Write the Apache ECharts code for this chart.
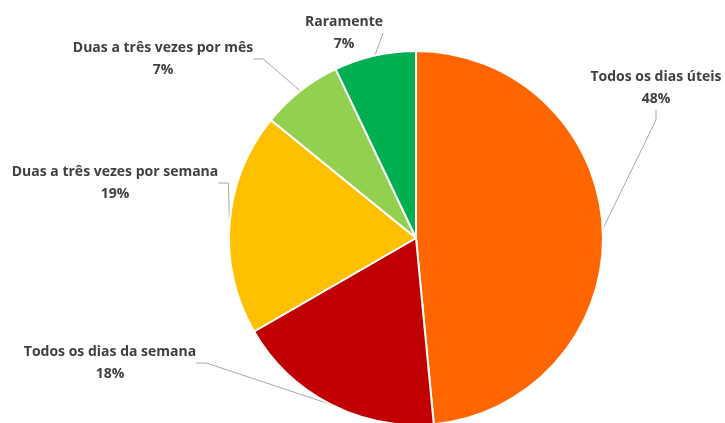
<!DOCTYPE html>
<html>
<head>
<meta charset="utf-8">
<script src="https://cdn.jsdelivr.net/npm/echarts@6/dist/echarts.min.js"></script>
<style>
  html, body { margin: 0; padding: 0; background: #fff; }
  #chart { width: 725px; height: 423px; }
</style>
</head>
<body>
<div id="chart"></div>
<script>
// Frequency categories, clockwise from the top
const categories = [
  'Todos os dias úteis',
  'Todos os dias da semana',
  'Duas a três vezes por semana',
  'Duas a três vezes por mês',
  'Raramente'
];
const shares = [48, 18, 19, 7, 7];
const colors = ['#FF6600', '#C00000', '#FFC000', '#92D050', '#00B050'];

// Label block centres (px) for each slice
const labelCentres = [
  [656, 88],
  [110, 363],
  [115, 183],
  [163, 59],
  [344, 33]
];

const chart = echarts.init(document.getElementById('chart'));
chart.setOption({
  animation: false,
  series: [{
    type: 'pie',
    center: [416, 238],
    radius: 187,
    startAngle: 90,
    clockwise: true,
    data: categories.map((name, i) => ({
      name,
      value: shares[i],
      itemStyle: { color: colors[i] }
    })),
    itemStyle: { borderColor: '#ffffff', borderWidth: 2 },
    label: {
      show: true,
      position: 'outside',
      formatter: '{b}\n{c}%',
      fontFamily: 'Open Sans',
      fontWeight: 'bold',
      fontSize: 14,
      lineHeight: 22,
      color: '#404040',
      align: 'center',
      overflow: 'none'
    },
    labelLine: {
      show: true,
      length: 10,
      length2: 10,
      lineStyle: { color: '#A6A6A6', width: 1 }
    },
    labelLayout: function (params) {
      const c = labelCentres[params.dataIndex];
      return { x: c[0], y: c[1], align: 'center', verticalAlign: 'middle' };
    }
  }]
});
</script>
</body>
</html>
